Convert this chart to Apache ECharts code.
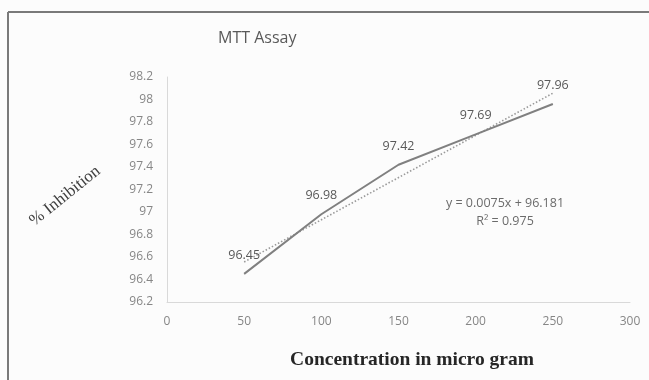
<!DOCTYPE html>
<html>
<head>
<meta charset="utf-8">
<script src="https://cdn.jsdelivr.net/npm/echarts@6/dist/echarts.min.js"></script>
<style>
html,body{margin:0;padding:0;background:#fcfcfc;}
#c{width:649px;height:380px;}
</style>
</head>
<body>
<div id="c"></div>
<script>
const concentrations = [50, 100, 150, 200, 250];
const inhibition = [96.45, 96.98, 97.42, 97.69, 97.96];
const trendX = [50, 250];
const trendY = [96.556, 98.056];
const titleText = 'MTT Assay';
const xAxisTitle = 'Concentration in micro gram';
const yAxisTitle = '% Inhibition';
const equationText = 'y = 0.0075x + 96.181';
const r2Text = 'R² = 0.975';

const chart = echarts.init(document.getElementById('c'), null, {renderer: 'canvas'});
const option = {
  backgroundColor: '#fcfcfc',
  animation: false,
  title: {
    text: titleText,
    left: 213, top: 25,
    textStyle: {fontFamily: 'Open Sans', fontSize: 16, fontWeight: 'normal', color: '#595959'}
  },
  grid: {left: 167, right: 19, top: 77, bottom: 78},
  xAxis: {
    type: 'value', min: 0, max: 300, interval: 50,
    axisLine: {show: true, lineStyle: {color: '#d9d9d9', width: 1}},
    axisTick: {show: false},
    splitLine: {show: false},
    axisLabel: {color: '#868686', fontFamily: 'Open Sans', fontSize: 12, margin: 14}
  },
  yAxis: {
    type: 'value', min: 96.2, max: 98.2, interval: 0.2,
    axisLine: {show: true, lineStyle: {color: '#d9d9d9', width: 1}},
    axisTick: {show: false},
    splitLine: {show: false},
    axisLabel: {color: '#868686', fontFamily: 'Open Sans', fontSize: 12, margin: 14,
      formatter: v => String(Math.round(v * 10) / 10)}
  },
  graphic: [
    {type: 'line', shape: {x1: 8, y1: 12, x2: 649, y2: 12}, style: {stroke: '#7a7a7a', lineWidth: 2}},
    {type: 'line', shape: {x1: 8, y1: 12, x2: 8, y2: 380}, style: {stroke: '#7a7a7a', lineWidth: 2}},
    {type: 'text', x: 65, y: 196, rotation: 39 * Math.PI / 180,
      style: {text: yAxisTitle, font: '17px "Liberation Serif"', fill: '#404040', textAlign: 'center', textVerticalAlign: 'middle'}},
    {type: 'text', x: 412, y: 360,
      style: {text: xAxisTitle, font: 'bold 19.5px "Liberation Serif"', fill: '#262626', textAlign: 'center', textVerticalAlign: 'middle'}},
    {type: 'text', x: 505, y: 203,
      style: {text: equationText, font: '12.5px "Open Sans"', fill: '#6b6b6b', textAlign: 'center', textVerticalAlign: 'middle'}},
    {type: 'text', x: 505, y: 221,
      style: {text: r2Text, font: '12.5px "Open Sans"', fill: '#6b6b6b', textAlign: 'center', textVerticalAlign: 'middle'}}
  ],
  series: [
    {
      type: 'line',
      data: concentrations.map((x, i) => [x, inhibition[i]]),
      showSymbol: true,
      symbol: 'circle',
      symbolSize: 0.5,
      itemStyle: {color: '#808080'},
      lineStyle: {color: '#808080', width: 2},
      label: {show: true, position: 'top', distance: 12, color: '#595959', fontFamily: 'Open Sans', fontSize: 12.5,
        formatter: p => p.value[1].toFixed(2)},
      z: 3
    },
    {
      type: 'line',
      data: trendX.map((x, i) => [x, trendY[i]]),
      showSymbol: false,
      lineStyle: {color: '#9a9a9a', width: 1.6, type: [1.5, 2]},
      z: 2
    }
  ]
};
chart.setOption(option);
</script>
</body>
</html>
